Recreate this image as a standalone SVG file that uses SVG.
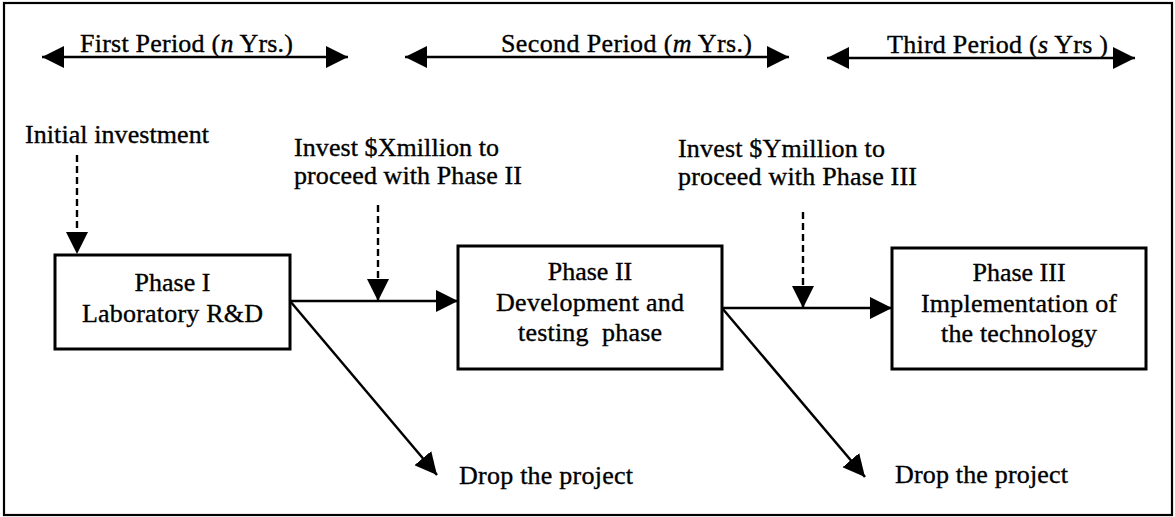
<svg xmlns="http://www.w3.org/2000/svg" width="1175" height="517" viewBox="0 0 1175 517">
  <defs>
    <style>
      text { font-family: "Liberation Serif", "Times New Roman", serif; font-size: 26px; fill: #000; stroke: #000; stroke-width: 0.35; }
      .mid { text-anchor: middle; }
      .box { fill: #fff; stroke: #000; stroke-width: 3; }
      .line { fill: none; stroke: #000; stroke-width: 2.5; }
      .dash { fill: none; stroke: #000; stroke-width: 2.4; stroke-dasharray: 7 4; }
      .frame { fill: #fff; stroke: #000; stroke-width: 2.2; }
    </style>
    <marker id="head" viewBox="0 0 22 22" refX="22" refY="11" markerWidth="22" markerHeight="22" markerUnits="userSpaceOnUse" orient="auto-start-reverse">
      <path d="M0,0 L22,11 L0,22 Z" fill="#000"/>
    </marker>
  </defs>

  <!-- outer frame -->
  <rect class="frame" x="4" y="3" width="1168" height="512"/>

  <!-- period spans along the top -->
  <g id="periods">
    <g id="period-1">
      <line class="line" x1="42" y1="57" x2="348" y2="57" marker-start="url(#head)" marker-end="url(#head)"/>
      <text x="80" y="52" textLength="213" lengthAdjust="spacing">First Period (<tspan font-style="italic">n</tspan> Yrs.)</text>
    </g>
    <g id="period-2">
      <line class="line" x1="405" y1="57" x2="789" y2="57" marker-start="url(#head)" marker-end="url(#head)"/>
      <text x="501" y="52" textLength="251" lengthAdjust="spacing">Second Period (<tspan font-style="italic">m</tspan> Yrs.)</text>
    </g>
    <g id="period-3">
      <line class="line" x1="827" y1="58" x2="1135" y2="58" marker-start="url(#head)" marker-end="url(#head)"/>
      <text x="887" y="53" textLength="221" lengthAdjust="spacing">Third Period (<tspan font-style="italic">s</tspan> Yrs )</text>
    </g>
  </g>

  <!-- investment labels -->
  <g id="invest-initial">
    <text x="25" y="143" textLength="184" lengthAdjust="spacing">Initial investment</text>
  </g>
  <g id="invest-x">
    <text x="294" y="156" textLength="205" lengthAdjust="spacing">Invest $Xmillion to</text>
    <text x="294" y="184" textLength="228" lengthAdjust="spacing">proceed with Phase II</text>
  </g>
  <g id="invest-y">
    <text x="678" y="157" textLength="207" lengthAdjust="spacing">Invest $Ymillion to</text>
    <text x="678" y="185" textLength="239" lengthAdjust="spacing">proceed with Phase III</text>
  </g>

  <!-- connectors -->
  <g id="connectors">
    <line class="dash" x1="77" y1="155" x2="77" y2="254" marker-end="url(#head)"/>
    <line class="dash" x1="378" y1="205" x2="378" y2="301" marker-end="url(#head)"/>
    <line class="dash" x1="803" y1="212" x2="803" y2="308" marker-end="url(#head)"/>
    <line class="line" x1="290" y1="301" x2="458" y2="301" marker-end="url(#head)"/>
    <line class="line" x1="722" y1="308" x2="892" y2="308" marker-end="url(#head)"/>
    <line class="line" x1="290" y1="301" x2="437" y2="475" marker-end="url(#head)"/>
    <line class="line" x1="722" y1="308" x2="865" y2="477" marker-end="url(#head)"/>
  </g>

  <!-- phase boxes -->
  <g id="phase-1">
    <rect class="box" x="55" y="255" width="235" height="94"/>
    <text class="mid" x="172.5" y="291">Phase I</text>
    <text class="mid" x="172.5" y="322" textLength="181" lengthAdjust="spacing">Laboratory R&amp;D</text>
  </g>
  <g id="phase-2">
    <rect class="box" x="458" y="246" width="264" height="123"/>
    <text class="mid" x="590" y="280">Phase II</text>
    <text class="mid" x="590" y="311" textLength="188" lengthAdjust="spacing">Development and</text>
    <text class="mid" x="590" y="341" textLength="144" lengthAdjust="spacing" xml:space="preserve">testing  phase</text>
  </g>
  <g id="phase-3">
    <rect class="box" x="892" y="248" width="254" height="121"/>
    <text class="mid" x="1019" y="281">Phase III</text>
    <text class="mid" x="1019" y="312" textLength="196" lengthAdjust="spacing">Implementation of</text>
    <text class="mid" x="1019" y="342" textLength="156" lengthAdjust="spacing">the technology</text>
  </g>

  <!-- exit outcomes -->
  <g id="drop-1">
    <text x="459" y="484" textLength="174" lengthAdjust="spacing">Drop the project</text>
  </g>
  <g id="drop-2">
    <text x="895" y="483" textLength="173" lengthAdjust="spacing">Drop the project</text>
  </g>
</svg>
